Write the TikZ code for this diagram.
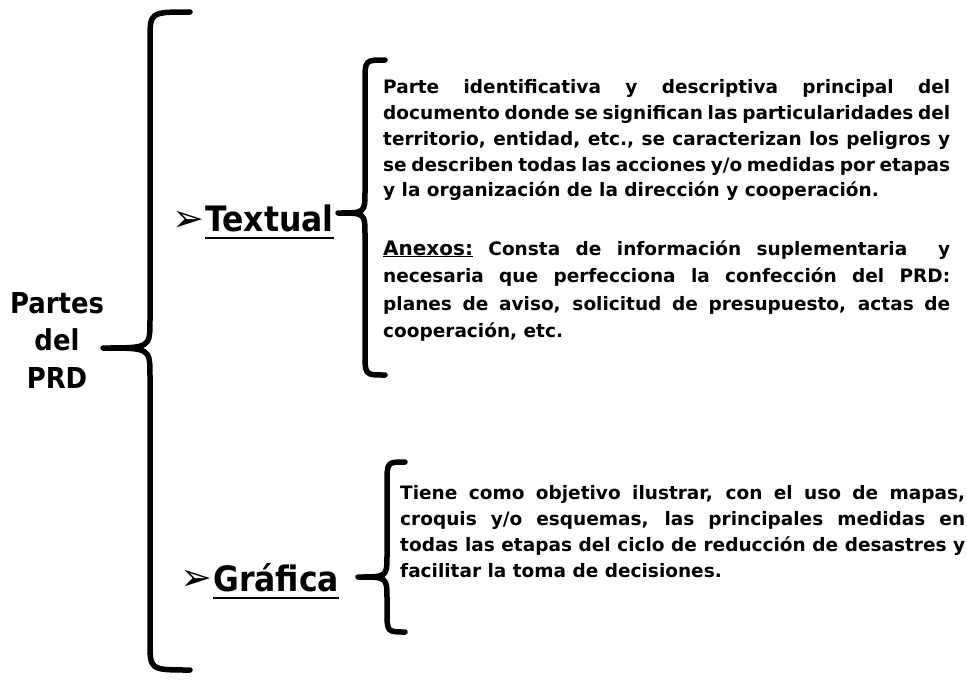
\documentclass[tikz,border=0pt]{standalone}
\usepackage{fontspec}
\setmainfont{DejaVu Sans}[FakeStretch=0.9]
\newfontfamily\bodyfont{DejaVu Sans}
\newcommand{\mybrace}[7]{%
  \draw[bracestyle] (#1,#4) .. controls (#2,#4) .. (#2,#4+#7) -- (#2,#5-#7)
    .. controls (#2,#5) .. (#3,#5) .. controls (#2,#5) .. (#2,#5+#7)
    -- (#2,#6-#7) .. controls (#2,#6) .. (#1,#6);}
\tikzset{
  x=1pt, y=-1pt,
  bracestyle/.style={line width=5.5pt, line cap=round, line join=round, black},
  headtext/.style={font=\bfseries\fontsize{35}{38}\selectfont, inner sep=0pt},
  roottext/.style={font=\bfseries\fontsize{28.8}{37.5}\selectfont, align=center, inner sep=0pt},
  bullet/.style={font=\bodyfont\fontsize{38}{38}\selectfont, inner sep=0pt},
  bodytext/.style={font=\bodyfont\bfseries\fontsize{18.5}{25.8}\selectfont, text width=567pt, align=justify, inner sep=0pt},
  uline/.style={line width=2.5pt}
}
\begin{document}
\begin{tikzpicture}
\useasboundingbox (0,0) rectangle (967,683);
% root
\node[roottext] (root) at (57,340) {Partes\\del\\PRD};
\mybrace{190}{150}{103}{12}{348}{670}{28}
% Textual
\node[headtext, anchor=base west] (tw) at (205,231) {Textual};
\node[bullet, anchor=east, yshift=-3.5pt] (b1) at (tw.west) {➢};
\draw[uline] ([yshift=-7pt]tw.base west) -- ([yshift=-7pt]tw.base east);
\mybrace{385}{365}{338}{60}{213}{375}{22}
\node[bodytext, anchor=north west] (p1) at (383,79.5) {Parte identificativa y descriptiva principal del\linebreak documento donde se significan las particularidades del\linebreak territorio, entidad, etc., se caracterizan los peligros y\linebreak se describen todas las acciones y/o medidas por etapas\linebreak y la organización de la dirección y cooperación.};
\node[bodytext, anchor=north west, font=\bodyfont\bfseries\fontsize{18.5}{27.6}\selectfont] (p2) at (383,240) {{\fontsize{20}{20}\selectfont\underline{Anexos:}} Consta de información suplementaria\ \ y\linebreak necesaria que perfecciona la confección del PRD:\linebreak planes de aviso, solicitud de presupuesto, actas de\linebreak cooperación, etc.};
% Grafica
\node[headtext, anchor=base west] (gw) at (213,591) {Gráfica};
\node[bullet, anchor=east, yshift=-3.5pt] (b2) at (gw.west) {➢};
\draw[uline] ([yshift=-7pt]gw.base west) -- ([yshift=-7pt]gw.base east);
\mybrace{405}{387}{358}{462}{577}{632}{22}
\node[bodytext, anchor=north west, text width=565pt, font=\bodyfont\bfseries\fontsize{18.5}{26}\selectfont] (p3) at (400,485.5) {Tiene como objetivo ilustrar, con el uso de mapas,\linebreak croquis y/o esquemas, las principales medidas en\linebreak todas las etapas del ciclo de reducción de desastres y\linebreak facilitar la toma de decisiones.};
\end{tikzpicture}
\end{document}
